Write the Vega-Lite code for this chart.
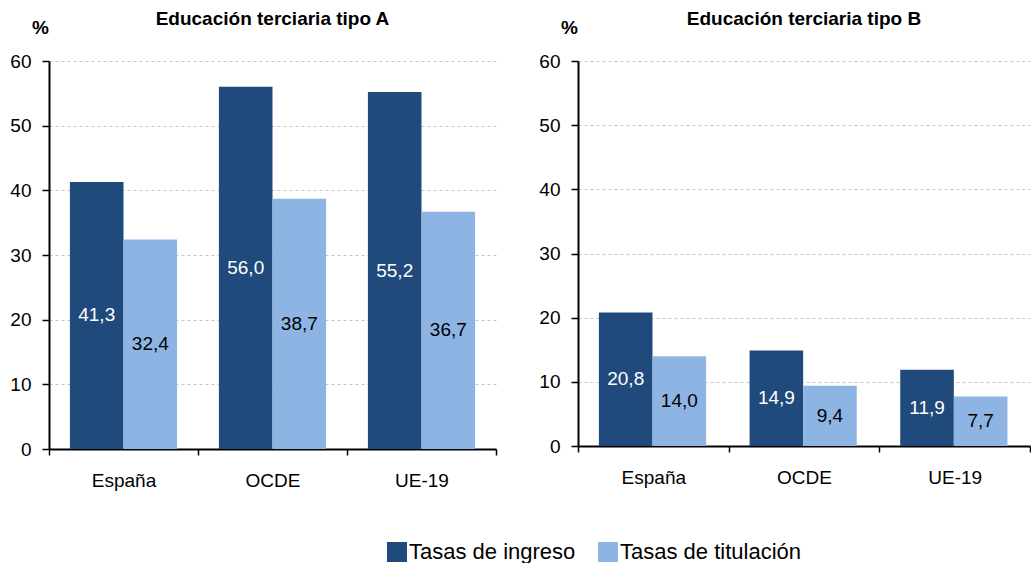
{
  "$schema": "https://vega.github.io/schema/vega-lite/v6.json",
  "padding": {"left": 9, "top": 10, "right": 0, "bottom": 0},
  "spacing": 41,
  "datasets": {
    "d": [
      {"panel": "A", "pais": "España", "serie": "Tasas de ingreso", "valor": 41.3},
      {"panel": "A", "pais": "España", "serie": "Tasas de titulación", "valor": 32.4},
      {"panel": "A", "pais": "OCDE", "serie": "Tasas de ingreso", "valor": 56.0},
      {"panel": "A", "pais": "OCDE", "serie": "Tasas de titulación", "valor": 38.7},
      {"panel": "A", "pais": "UE-19", "serie": "Tasas de ingreso", "valor": 55.2},
      {"panel": "A", "pais": "UE-19", "serie": "Tasas de titulación", "valor": 36.7},
      {"panel": "B", "pais": "España", "serie": "Tasas de ingreso", "valor": 20.8},
      {"panel": "B", "pais": "España", "serie": "Tasas de titulación", "valor": 14.0},
      {"panel": "B", "pais": "OCDE", "serie": "Tasas de ingreso", "valor": 14.9},
      {"panel": "B", "pais": "OCDE", "serie": "Tasas de titulación", "valor": 9.4},
      {"panel": "B", "pais": "UE-19", "serie": "Tasas de ingreso", "valor": 11.9},
      {"panel": "B", "pais": "UE-19", "serie": "Tasas de titulación", "valor": 7.7}
    ]
  },
  "config": {
    "font": "Liberation Sans",
    "view": {"stroke": null},
    "locale": {"number": {"decimal": ",", "thousands": ".", "grouping": [3], "currency": ["", " €"]}},
    "title": {"fontSize": 19, "fontWeight": "bold", "color": "black", "anchor": "middle"},
    "axisY": {"domainColor": "black", "domainWidth": 2, "tickColor": "black", "tickWidth": 1.5, "tickSize": 7, "labelFontSize": 19, "labelPadding": 11, "labelColor": "black", "gridColor": "#c8c8c8", "gridDash": [3, 3], "gridWidth": 1, "titleAngle": 0, "titleFontSize": 19, "titleFontWeight": "bold", "titleColor": "black", "titleX": -9, "titleY": -34, "titleAlign": "center", "titleBaseline": "middle"},
    "axisX": {"domainColor": "black", "domainWidth": 2, "tickColor": "black", "tickWidth": 1.5, "tickSize": 6, "labelFontSize": 19, "labelPadding": 16, "labelAngle": 0, "labelColor": "black", "title": null, "tickBand": "extent", "grid": false}
  },
  "hconcat": [
    {
      "data": {"name": "d"},
      "transform": [{"filter": "datum.panel == 'A'"}],
      "title": {"text": "Educación terciaria tipo A", "offset": -11},
      "width": 447,
      "height": 388,
      "layer": [
        {
          "mark": {"type": "bar"},
          "encoding": {
            "x": {"field": "pais", "type": "nominal", "sort": ["España", "OCDE", "UE-19"], "scale": {"paddingInner": 0, "paddingOuter": 0}, "axis": {"title": null}},
            "xOffset": {"field": "serie", "type": "nominal", "sort": ["Tasas de ingreso", "Tasas de titulación"], "scale": {"paddingInner": 0, "paddingOuter": 0.39}},
            "y": {"field": "valor", "type": "quantitative", "scale": {"domain": [0, 60]}, "axis": {"values": [0, 10, 20, 30, 40, 50, 60], "title": "%"}},
            "color": {"field": "serie", "type": "nominal", "scale": {"domain": ["Tasas de ingreso", "Tasas de titulación"], "range": ["#204A7C", "#8EB4E3"]},
              "legend": {"orient": "none", "legendX": 337, "legendY": 480, "direction": "horizontal", "title": null, "symbolType": "square", "symbolSize": 400, "symbolStrokeWidth": 0, "labelFontSize": 22, "labelLimit": 400, "labelColor": "black", "columnPadding": 21, "labelOffset": 1, "symbolOpacity": 1}}
          }
        },
        {
          "mark": {"type": "text", "fontSize": 19, "baseline": "middle"},
          "encoding": {
            "x": {"field": "pais", "type": "nominal", "sort": ["España", "OCDE", "UE-19"]},
            "xOffset": {"field": "serie", "type": "nominal", "sort": ["Tasas de ingreso", "Tasas de titulación"]},
            "y": {"field": "valor", "type": "quantitative", "scale": {"domain": [0, 120]}, "axis": null},
            "text": {"field": "valor", "type": "quantitative", "format": ".1f"},
            "color": {"condition": {"test": "datum.serie == 'Tasas de ingreso'", "value": "white"}, "value": "black"}
          }
        }
      ],
      "resolve": {"scale": {"y": "independent"}}
    },
    {
      "data": {"name": "d"},
      "transform": [{"filter": "datum.panel == 'B'"}],
      "title": {"text": "Educación terciaria tipo B", "offset": -11},
      "width": 452,
      "height": 385,
      "layer": [
        {
          "mark": {"type": "bar"},
          "encoding": {
            "x": {"field": "pais", "type": "nominal", "sort": ["España", "OCDE", "UE-19"], "scale": {"paddingInner": 0, "paddingOuter": 0}, "axis": {"title": null}},
            "xOffset": {"field": "serie", "type": "nominal", "sort": ["Tasas de ingreso", "Tasas de titulación"], "scale": {"paddingInner": 0, "paddingOuter": 0.39}},
            "y": {"field": "valor", "type": "quantitative", "scale": {"domain": [0, 60]}, "axis": {"values": [0, 10, 20, 30, 40, 50, 60], "title": "%"}},
            "color": {"field": "serie", "type": "nominal", "scale": {"domain": ["Tasas de ingreso", "Tasas de titulación"], "range": ["#204A7C", "#8EB4E3"]}}
          }
        },
        {
          "mark": {"type": "text", "fontSize": 19, "baseline": "middle"},
          "encoding": {
            "x": {"field": "pais", "type": "nominal", "sort": ["España", "OCDE", "UE-19"]},
            "xOffset": {"field": "serie", "type": "nominal", "sort": ["Tasas de ingreso", "Tasas de titulación"]},
            "y": {"field": "valor", "type": "quantitative", "scale": {"domain": [0, 120]}, "axis": null},
            "text": {"field": "valor", "type": "quantitative", "format": ".1f"},
            "color": {"condition": {"test": "datum.serie == 'Tasas de ingreso'", "value": "white"}, "value": "black"}
          }
        }
      ],
      "resolve": {"scale": {"y": "independent"}}
    }
  ]
}
